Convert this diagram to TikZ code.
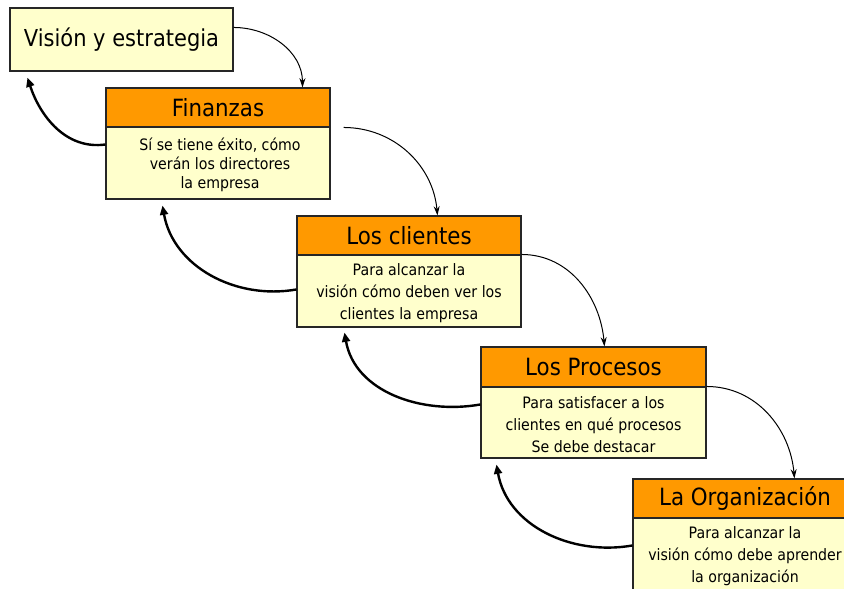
\documentclass[tikz,border=0pt]{standalone}
\usepackage{fontspec}
\setmainfont[FakeStretch=0.9]{DejaVu Sans}
\usetikzlibrary{arrows.meta,calc,fit}
\definecolor{boxfill}{HTML}{FFFFCC}
\definecolor{headfill}{HTML}{FF9900}
\definecolor{edge}{HTML}{262626}
\begin{document}
\begin{tikzpicture}[x=0.75pt,y=-0.75pt,
  panel/.style={draw=edge,line width=0.8pt,inner sep=0pt,fill=boxfill},
  headbox/.style={panel,fill=headfill},
  titlebox/.style={panel},
  bodybox/.style={panel},
  titletext/.style={font=\fontsize{17.5}{20}\selectfont},
  headtext/.style={font=\fontsize{17.8}{20}\selectfont},
  bodytext/.style={font=\fontsize{11.8}{16.5}\selectfont,align=center},
  forward/.style={line width=0.75pt,-{Stealth[length=7pt,width=4.5pt]}},
  backward/.style={line width=1.8pt,-{Triangle[length=7pt,width=6pt]}}]
\useasboundingbox (0,0) rectangle (844,589);
\clip (0,0) rectangle (844,589);

% strategic vision
\node[titlebox,fit={(10,8)(233,71)}] (v) {};
\node[titletext] (vt) at (v.center) {Visión y estrategia};

% four perspectives: header + description
\node[bodybox,fit={(106,127)(330,199)}] (fb) {};
\node[headbox,fit={(106,88)(330,127)}] (fh) {};
\node[headtext] (fht) at (fh.center) {Finanzas};
\node[bodytext,font=\fontsize{11.8}{14.3}\selectfont] (fbt) at ($(fb.center)+(2,2)$)
  {Sí se tiene éxito, cómo\\ verán los directores\\ la empresa};

\node[bodybox,fit={(297,255)(521,327)}] (cb) {};
\node[headbox,fit={(297,216)(521,255)}] (ch) {};
\node[headtext] (cht) at (ch.center) {Los clientes};
\node[bodytext] (cbt) at ($(cb.center)+(0,2)$)
  {Para alcanzar la\\ visión cómo deben ver los\\ clientes la empresa};

\node[bodybox,fit={(481,387)(706,458)}] (pb) {};
\node[headbox,fit={(481,347)(706,387)}] (ph) {};
\node[headtext] (pht) at (ph.center) {Los Procesos};
\node[bodytext] (pbt) at ($(pb.center)+(0,2)$)
  {Para satisfacer a los\\ clientes en qué procesos\\ Se debe destacar};

\node[bodybox,fit={(633,518)(857,600)}] (ob) {};
\node[headbox,fit={(633,479)(857,518)}] (oh) {};
\node[headtext] (oht) at (oh.center) {La Organización};
\node[bodytext,anchor=north] (obt) at ($(ob.north)+(0,4)$)
  {Para alcanzar la\\ visión cómo debe aprender\\ la organización};

% cascade downwards
\draw[forward] ($(v.north east)+(0,20)$) to[out=0,in=90] ($(fh.north west)+(197,0)$);
\draw[forward] ($(fb.north east)+(13,1)$) to[out=0,in=95] ($(ch.north west)+(141,0)$);
\draw[forward] (cb.north east) to[out=0,in=95] ($(ph.north west)+(124,0)$);
\draw[forward] (pb.north east) to[out=0,in=95] ($(oh.north west)+(162,0)$);

% feedback upwards
\draw[backward] ($(fb.north west)+(0,18)$) to[out=188,in=-72] ($(v.south west)+(18,6)$);
\draw[backward] ($(cb.north west)+(0,35)$) to[out=190,in=-80] ($(fb.south west)+(57,6)$);
\draw[backward] ($(pb.north west)+(0,18)$) to[out=190,in=-80] ($(cb.south west)+(48,5)$);
\draw[backward] ($(ob.north west)+(0,28)$) to[out=190,in=-80] ($(pb.south west)+(16,6)$);
\end{tikzpicture}
\end{document}
